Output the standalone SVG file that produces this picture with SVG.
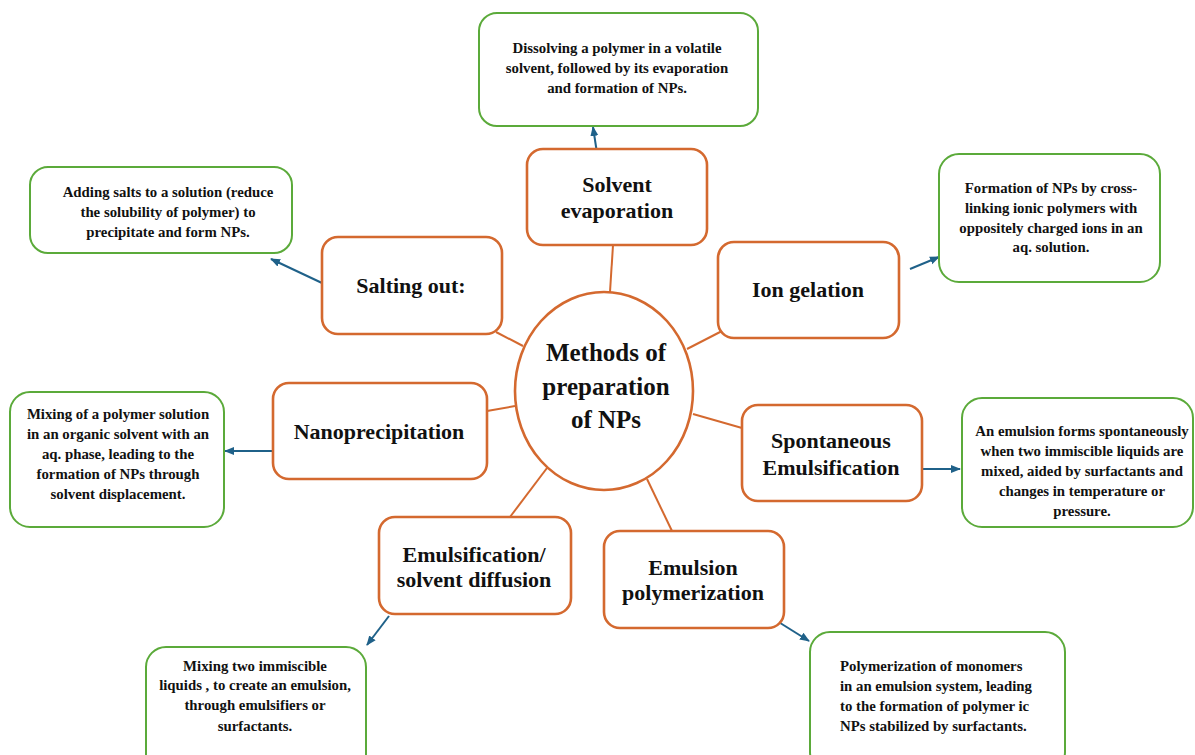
<svg xmlns="http://www.w3.org/2000/svg" width="1195" height="755" viewBox="0 0 1195 755">
<style>
.m{fill:#fff;stroke:#D4692F;stroke-width:2.6}
.d{fill:#fff;stroke:#5BAA3A;stroke-width:2}
.c{stroke:#D4692F;stroke-width:2;fill:none}
.a{stroke:#1F6189;stroke-width:2;fill:none;marker-end:url(#ah)}
text{font-family:"Liberation Serif","Times New Roman",serif;font-weight:bold;fill:#111;text-anchor:middle}
.t{font-size:22px}
.ct{font-size:25px}
.s{font-size:14.8px}
.l{text-anchor:start}
</style>
<defs>
<marker id="ah" markerUnits="userSpaceOnUse" markerWidth="10" markerHeight="10" refX="9" refY="5" orient="auto">
<path d="M0,1 L10,5 L0,9 z" fill="#1F6189"/>
</marker>
</defs>
<rect width="1195" height="755" fill="#fff"/>
<g id="connectors">
<line class="c" x1="613" y1="245" x2="610" y2="292"/>
<line class="c" x1="496" y1="332" x2="523" y2="346"/>
<line class="c" x1="722" y1="331" x2="687" y2="349"/>
<line class="c" x1="487" y1="411" x2="515" y2="406"/>
<line class="c" x1="693" y1="414" x2="742" y2="428"/>
<line class="c" x1="547" y1="468" x2="510" y2="517"/>
<line class="c" x1="647" y1="479" x2="672" y2="531"/>
<line class="a" x1="597" y1="153" x2="593" y2="127"/>
<line class="a" x1="322" y1="283" x2="271" y2="259"/>
<line class="a" x1="910" y1="269" x2="939" y2="257"/>
<line class="a" x1="273" y1="451" x2="225" y2="451"/>
<line class="a" x1="920" y1="469" x2="960" y2="469"/>
<line class="a" x1="389" y1="616" x2="367" y2="645"/>
<line class="a" x1="777" y1="621" x2="809" y2="641"/>
</g>
<g id="center">
<ellipse class="m" cx="604" cy="391" rx="89" ry="99"/>
<text class="ct" x="606" y="361">Methods of</text>
<text class="ct" x="606" y="395">preparation</text>
<text class="ct" x="606" y="428">of NPs</text>
</g>
<g id="solvent-evaporation">
<rect class="m" x="527" y="149" width="180" height="96" rx="16"/>
<text class="t" x="617" y="192">Solvent</text>
<text class="t" x="617" y="218">evaporation</text>
</g>
<g id="salting-out">
<rect class="m" x="322" y="237" width="180" height="97" rx="16"/>
<text class="t" x="411" y="293">Salting out:</text>
</g>
<g id="ion-gelation">
<rect class="m" x="718" y="242" width="181" height="96" rx="16"/>
<text class="t" x="808" y="297">Ion gelation</text>
</g>
<g id="nanoprecipitation">
<rect class="m" x="273" y="383" width="214" height="96" rx="16"/>
<text class="t" x="379" y="439">Nanoprecipitation</text>
</g>
<g id="spontaneous-emulsification">
<rect class="m" x="742" y="405" width="180" height="96" rx="16"/>
<text class="t" x="831" y="448">Spontaneous</text>
<text class="t" x="831" y="475">Emulsification</text>
</g>
<g id="emulsification-solvent-diffusion">
<rect class="m" x="379" y="517" width="192" height="97" rx="16"/>
<text class="t" x="474" y="562">Emulsification/</text>
<text class="t" x="474" y="587">solvent diffusion</text>
</g>
<g id="emulsion-polymerization">
<rect class="m" x="604" y="531" width="180" height="97" rx="16"/>
<text class="t" x="693" y="575">Emulsion</text>
<text class="t" x="693" y="600">polymerization</text>
</g>
<g id="desc-solvent-evaporation">
<rect class="d" x="479" y="13" width="279" height="113" rx="18"/>
<text class="s" x="617" y="53">Dissolving a polymer in a volatile</text>
<text class="s" x="617" y="73">solvent, followed by its evaporation</text>
<text class="s" x="617" y="93">and formation of NPs.</text>
</g>
<g id="desc-salting-out">
<rect class="d" x="30" y="167" width="262" height="86" rx="18"/>
<text class="s" x="168" y="197">Adding salts to a solution (reduce</text>
<text class="s" x="168" y="217">the solubility of polymer)  to</text>
<text class="s" x="168" y="237">precipitate and form NPs.</text>
</g>
<g id="desc-ion-gelation">
<rect class="d" x="939" y="154" width="221" height="128" rx="20"/>
<text class="s" x="1051" y="193">Formation of NPs by cross-</text>
<text class="s" x="1051" y="213">linking ionic polymers with</text>
<text class="s" x="1051" y="233">oppositely charged ions in an</text>
<text class="s" x="1051" y="252">aq. solution.</text>
</g>
<g id="desc-nanoprecipitation">
<rect class="d" x="10" y="392" width="214" height="135" rx="20"/>
<text class="s" x="118" y="419">Mixing of a polymer solution</text>
<text class="s" x="118" y="439">in an organic solvent with an</text>
<text class="s" x="118" y="459">aq. phase, leading to the</text>
<text class="s" x="118" y="479">formation of NPs through</text>
<text class="s" x="118" y="499">solvent displacement.</text>
</g>
<g id="desc-spontaneous-emulsification">
<rect class="d" x="962" y="398" width="231" height="129" rx="20"/>
<text class="s" x="1082" y="436">An emulsion forms spontaneously</text>
<text class="s" x="1082" y="456">when two immiscible liquids are</text>
<text class="s" x="1082" y="476">mixed, aided by surfactants and</text>
<text class="s" x="1082" y="496">changes in temperature or</text>
<text class="s" x="1082" y="516">pressure.</text>
</g>
<g id="desc-emulsification-solvent-diffusion">
<rect class="d" x="146" y="647" width="220" height="130" rx="20"/>
<text class="s" x="255" y="671">Mixing two immiscible</text>
<text class="s" x="255" y="690">liquids , to create an emulsion,</text>
<text class="s" x="255" y="710">through emulsifiers or</text>
<text class="s" x="255" y="731">surfactants.</text>
</g>
<g id="desc-emulsion-polymerization">
<rect class="d" x="810" y="632" width="255" height="140" rx="20"/>
<text class="s l" x="840" y="671">Polymerization of monomers</text>
<text class="s l" x="840" y="691">in an emulsion system, leading</text>
<text class="s l" x="840" y="711">to the formation of polymer ic</text>
<text class="s l" x="840" y="731">NPs stabilized by surfactants.</text>
</g>
</svg>
